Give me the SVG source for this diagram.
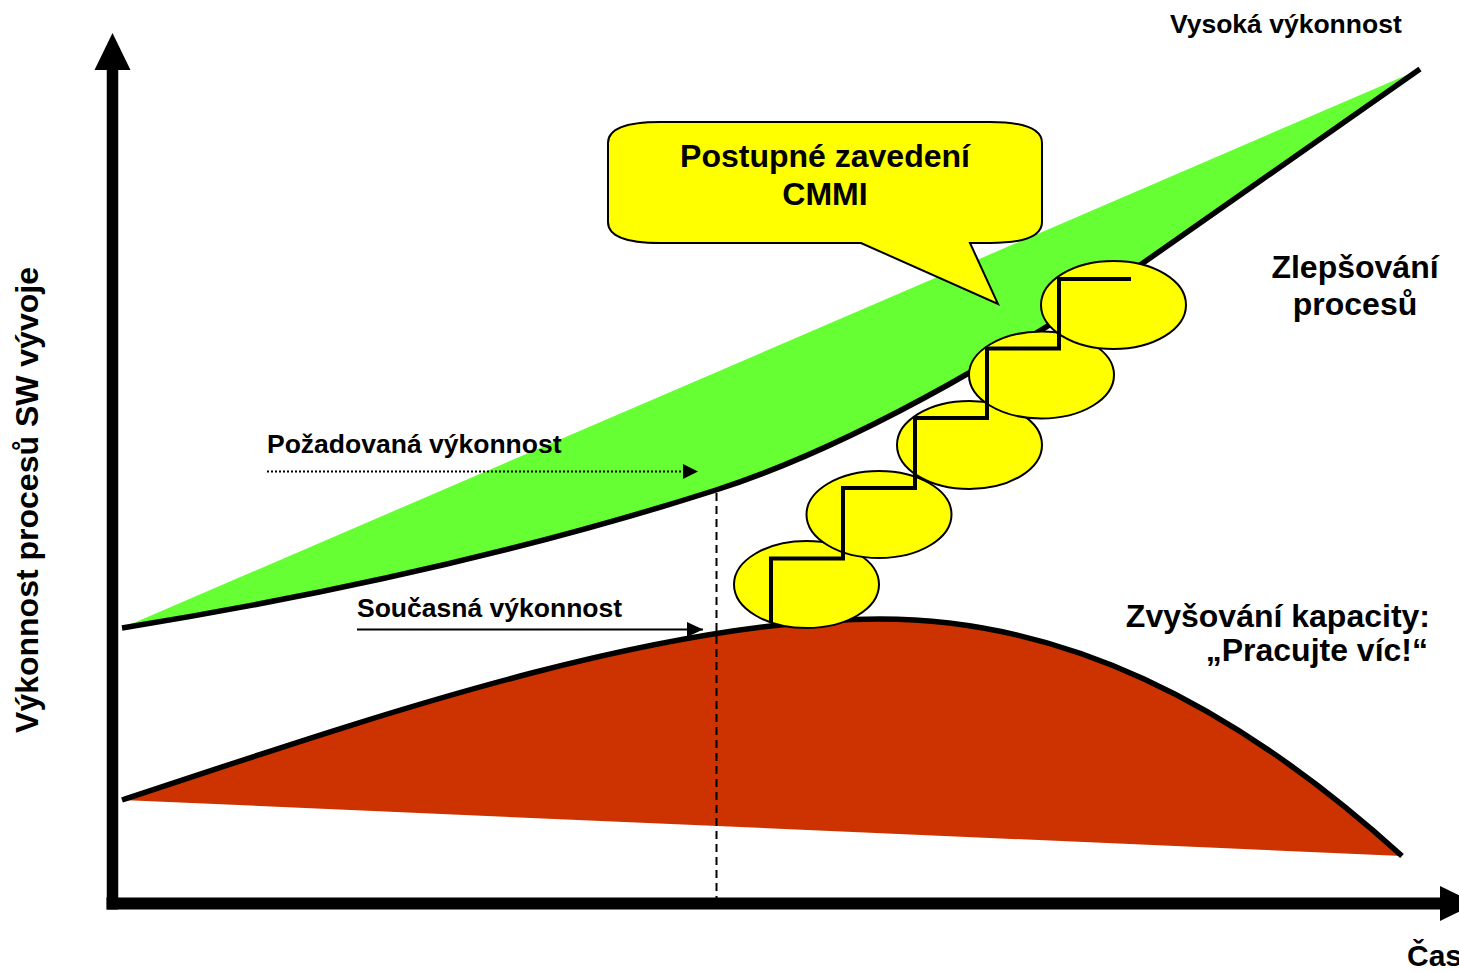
<svg xmlns="http://www.w3.org/2000/svg" width="1459" height="971" viewBox="0 0 1459 971">
<style>
text{font-family:"Liberation Sans",Arial,sans-serif;font-weight:bold;fill:#000}
.big{font-size:32px}
.small{font-size:26.5px}
.ell{fill:#FFFF00;stroke:#000;stroke-width:2}
.curve{fill:none;stroke:#000;stroke-width:5.5}
</style>
<defs>
<marker id="ah" markerUnits="userSpaceOnUse" markerWidth="16" markerHeight="16" refX="16" refY="7.5" orient="auto">
<path d="M0,0 L16,7.5 L0,15 Z" fill="#000"/>
</marker>
</defs>
<rect width="1459" height="971" fill="#fff"/>
<g id="areas">
<path id="green-band" d="M122,628 L1416,71 L1143,263 C1043,333 866,442 716,490 Q450,575 122,628 Z" fill="#66FF33"/>
<path id="red-area" d="M122,800 C350,725 650,619 880,619 C1060,619 1230,700 1402,856 Z" fill="#CC3300"/>
</g>
<g id="curves">
<path class="curve" d="M122,628 Q450,575 716,490 C866,442 1043,333 1143,263 L1420,69"/>
<path class="curve" d="M122,800 C350,725 650,619 880,619 C1060,619 1230,700 1402,856"/>
</g>
<g id="axes">
<line x1="112.5" y1="68" x2="112.5" y2="909.5" stroke="#000" stroke-width="11.5"/>
<polygon points="112.5,33 94.5,70 130.5,70" fill="#000"/>
<line x1="106.5" y1="903.5" x2="1442" y2="903.5" stroke="#000" stroke-width="12"/>
<polygon points="1440,886 1476,903.5 1440,921" fill="#000"/>
</g>
<g id="connectors">
<line x1="716.5" y1="493" x2="716.5" y2="898" stroke="#000" stroke-width="2" stroke-dasharray="8 5"/>
<line x1="267" y1="471.5" x2="692" y2="471.5" stroke="#000" stroke-width="2" stroke-dasharray="2 2"/>
<polygon points="683,464 698,471.5 683,479" fill="#000"/>
<line x1="357" y1="629.5" x2="703" y2="629.5" stroke="#000" stroke-width="2" marker-end="url(#ah)"/>
</g>
<g id="steps">
<ellipse class="ell" cx="806.5" cy="584.5" rx="72.5" ry="43.5"/>
<ellipse class="ell" cx="879" cy="514.5" rx="72.5" ry="43.5"/>
<ellipse class="ell" cx="969.5" cy="445" rx="72.5" ry="44"/>
<ellipse class="ell" cx="1041.5" cy="375" rx="72.5" ry="43.5"/>
<ellipse class="ell" cx="1113.5" cy="305" rx="72.5" ry="44"/>
<path d="M771,623 V558.5 H843 V488 H915 V418 H987 V348.5 H1059 V279 H1131" fill="none" stroke="#000" stroke-width="4"/>
</g>
<g id="callout">
<path d="M660,122 L990,122 Q1042,122 1042,143 L1042,222 Q1042,243 990,243 L970,243 L998,304 L861,243 L660,243 Q608,243 608,222 L608,143 Q608,122 660,122 Z" fill="#FFFF00" stroke="#000" stroke-width="2" stroke-linejoin="miter"/>
<text class="big" x="825" y="167" text-anchor="middle">Postupné zavedení</text>
<text class="big" x="825" y="205" text-anchor="middle">CMMI</text>
</g>
<g id="label-vysoka"><text class="small" x="1170" y="33">Vysoká výkonnost</text></g>
<g id="label-zlepsovani">
<text class="big" x="1355" y="278" text-anchor="middle">Zlepšování</text>
<text class="big" x="1355" y="315" text-anchor="middle">procesů</text>
</g>
<g id="label-zvysovani">
<text class="big" x="1430" y="627" text-anchor="end">Zvyšování kapacity:</text>
<text class="big" x="1428" y="661" text-anchor="end">„Pracujte víc!“</text>
</g>
<g id="label-pozadovana"><text class="small" x="267" y="453">Požadovaná výkonnost</text></g>
<g id="label-soucasna"><text class="small" x="357" y="617">Současná výkonnost</text></g>
<g id="label-yaxis"><text class="big" transform="translate(38,500) rotate(-90)" text-anchor="middle">Výkonnost procesů SW vývoje</text></g>
<g id="label-cas"><text style="font-size:30px" x="1407" y="966">Čas</text></g>
</svg>
